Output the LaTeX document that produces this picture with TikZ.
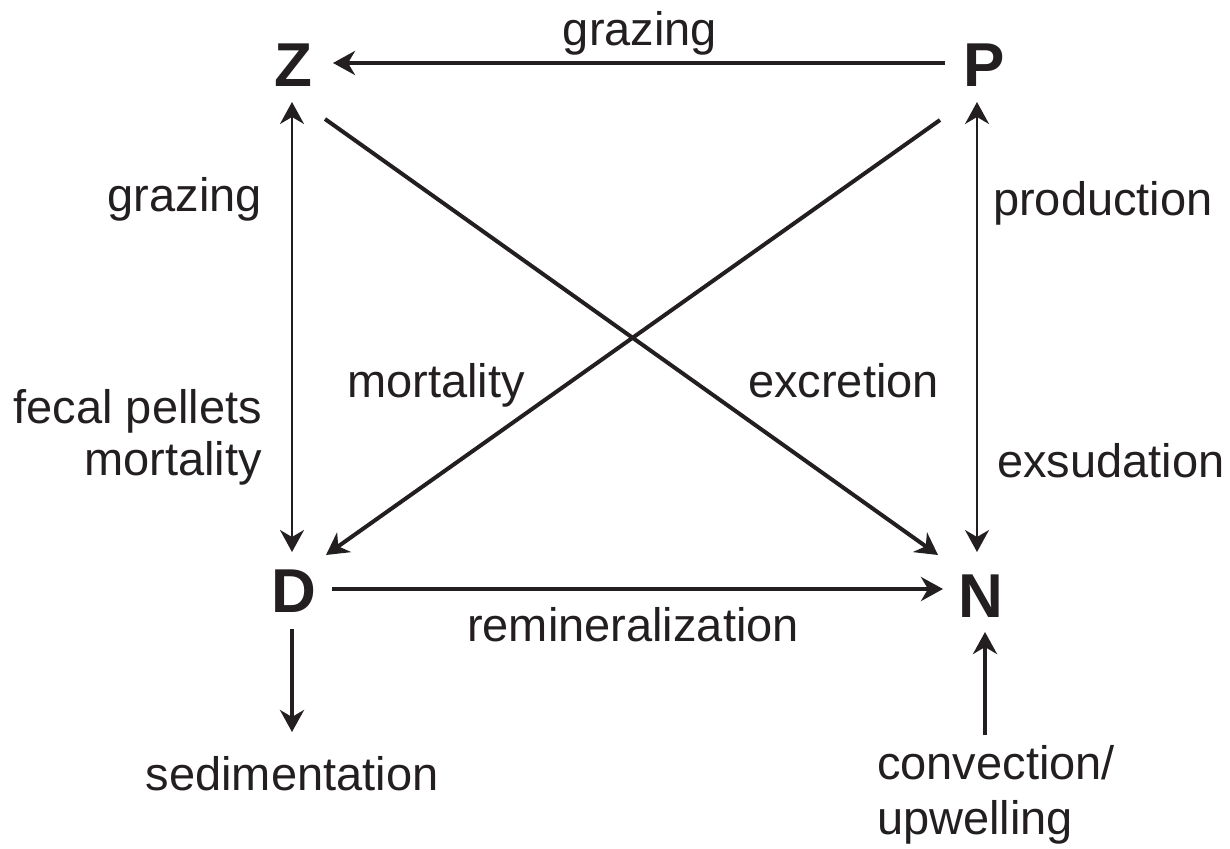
\documentclass[tikz,border=0pt]{standalone}
\usepackage{fontspec}
\setmainfont{Liberation Sans}
\usetikzlibrary{arrows.meta}
\definecolor{ink}{HTML}{231F20}
\tikzset{
  lbl/.style={font=\fontsize{47}{58}\selectfont, text=ink, inner sep=0pt},
  big/.style={font=\fontsize{62}{70}\selectfont\bfseries, text=ink, inner sep=0pt, anchor=base},
  thickarr/.style={draw=ink, line width=4pt, -{Stealth[length=22pt,width=24pt,inset=7pt]}},
  thinarr/.style={draw=ink, line width=2pt, {Stealth[length=22pt,width=24pt,inset=7pt]}-{Stealth[length=22pt,width=24pt,inset=7pt]}}
}
\begin{document}
\begin{tikzpicture}[x=1pt,y=-1pt]
\useasboundingbox (0,0) rectangle (1230,848);
% compartments
\node[big] (Z) at (293,87) {Z};
\node[big] (P) at (984,87) {P};
\node[big] (D) at (294,612) {D};
\node[big] (N) at (981,617) {N};
% connector end points
\coordinate (pz1) at (945,63);  \coordinate (pz2) at (333,63);
\coordinate (zd1) at (292,102); \coordinate (zd2) at (292,552);
\coordinate (pn1) at (977,102); \coordinate (pn2) at (977,552);
\coordinate (zn1) at (325,119); \coordinate (zn2) at (938,555);
\coordinate (pd1) at (940,120); \coordinate (pd2) at (326,555);
\coordinate (dn1) at (332,589); \coordinate (dn2) at (943,589);
\coordinate (ds1) at (292,629); \coordinate (ds2) at (292,732);
\coordinate (cu1) at (985,735); \coordinate (cu2) at (985,632);
% connectors
\draw[thickarr] (pz1) -- (pz2);
\draw[thinarr] (zd1) -- (zd2);
\draw[thinarr] (pn1) -- (pn2);
\draw[thickarr] (zn1) -- (zn2);
\draw[thickarr] (pd1) -- (pd2);
\draw[thickarr] (dn1) -- (dn2);
\draw[thickarr] (ds1) -- (ds2);
\draw[thickarr] (cu1) -- (cu2);
% labels
\node[lbl, anchor=base] (lgz) at (640,46) {grazing};
\node[lbl, anchor=base east] (lgl) at (262,211) {grazing};
\node[lbl, anchor=base west] (lpr) at (993,215) {production};
\node[lbl, anchor=base west] (lmm) at (347,397) {mortality};
\node[lbl, anchor=base east] (lex) at (939,397) {excretion};
\node[lbl, anchor=base east] (lfp) at (262,423) {fecal pellets};
\node[lbl, anchor=base east] (lml) at (262,475) {mortality};
\node[lbl, anchor=base west] (lxs) at (997,477) {exsudation};
\node[lbl, anchor=base] (lrm) at (633,641) {remineralization};
\node[lbl, anchor=base] (lsd) at (292,790) {sedimentation};
\node[lbl, anchor=base west] (lcv) at (877,779) {convection/};
\node[lbl, anchor=base west] (lup) at (877,834) {upwelling};
\end{tikzpicture}
\end{document}
